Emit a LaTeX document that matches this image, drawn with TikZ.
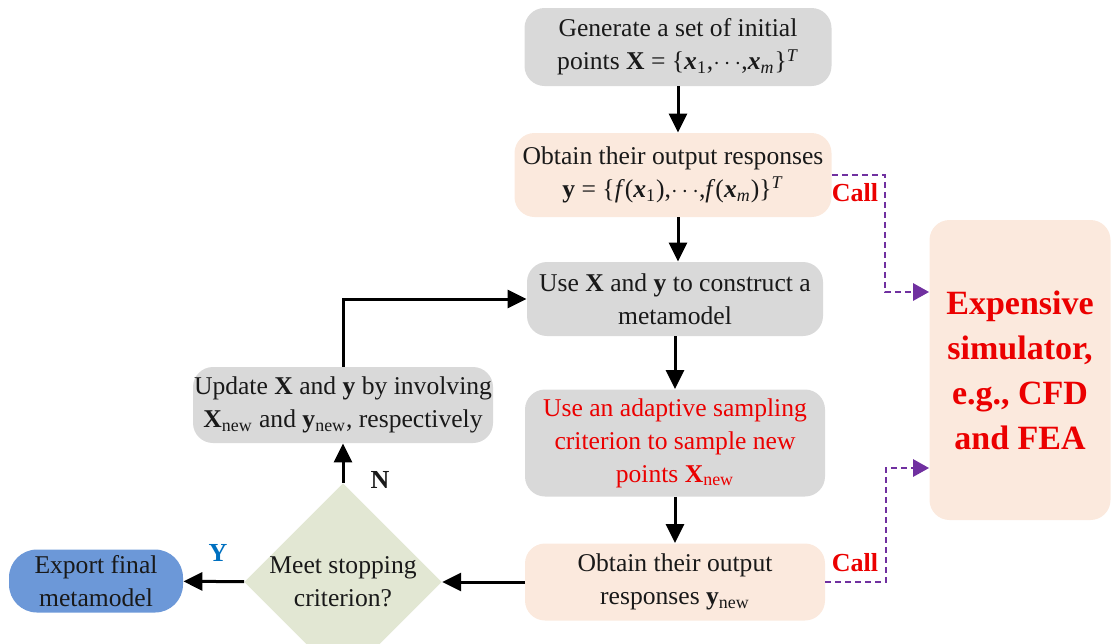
\documentclass[tikz,border=0pt]{standalone}
\usepackage{fontspec}
\setmainfont{Liberation Serif}
\usetikzlibrary{arrows.meta,shapes.geometric}
\definecolor{boxgray}{RGB}{217,217,217}
\definecolor{boxpeach}{RGB}{251,233,221}
\definecolor{boxblue}{RGB}{108,152,216}
\definecolor{boxsage}{RGB}{226,231,211}
\definecolor{callred}{RGB}{235,0,0}
\definecolor{callpurple}{RGB}{112,48,160}
\definecolor{yesblue}{RGB}{0,112,192}
\newcommand{\bx}{\textbf{\textit{x}}}
\newcommand{\nw}[1]{\textbf{#1}\textsubscript{new}}

\begin{document}
\begin{tikzpicture}[x=0.5pt, y=-0.5pt,
  every node/.style={font=\fontsize{12.8}{16.5}\selectfont, text=black!90, align=center, inner sep=0pt},
  gbox/.style={rounded corners=10pt, fill=boxgray},
  pbox/.style={rounded corners=10pt, fill=boxpeach},
  arr/.style={-{Triangle[length=9.5pt,width=9pt]}, line width=1.5pt},
  call/.style={-{Triangle[length=8pt,width=8.5pt]}, line width=1.4pt, callpurple, dash pattern=on 3pt off 2pt},
  lbl/.style={font=\fontsize{13}{15}\selectfont\bfseries}
  ]

  \useasboundingbox (0,0) rectangle (1111,643);

  % main column
  \node[gbox, minimum width=153.5pt, minimum height=39pt] (init) at (678,47)
    {Generate a set of initial\\ points \textbf{X} = \{\bx\textsubscript{1},$\cdots$,\bx\textsubscript{\textit{m}}\}\textsuperscript{\textit{T}}};
  \node[pbox, minimum width=158.5pt, minimum height=42pt] (resp) at (673,175)
    {Obtain their output responses\\ \textbf{y} = \{\textit{f}(\bx\textsubscript{1}),$\cdots$,\textit{f}(\bx\textsubscript{\textit{m}})\}\textsuperscript{\textit{T}}};
  \node[gbox, minimum width=148pt, minimum height=37pt] (build) at (675,299)
    {Use \textbf{X} and \textbf{y} to construct a\\ metamodel};
  \node[gbox, minimum width=150pt, minimum height=53.5pt, text=callred] (sample) at (675,443)
    {Use an adaptive sampling\\ criterion to sample new\\ points \nw{X}};
  \node[pbox, minimum width=150pt, minimum height=38.5pt] (respnew) at (675,582)
    {Obtain their output\\ responses \nw{y}};

  % loop and exit
  \node[diamond, fill=boxsage, minimum width=96.5pt, minimum height=62.5pt] (stop) at (343,582)
    {Meet stopping\\ criterion?};
  \node[gbox, minimum width=150pt, minimum height=38pt] (update) at (343,405)
    {Update \textbf{X} and \textbf{y} by involving\\ \nw{X} and \nw{y}, respectively};
  \node[rounded corners=14pt, fill=boxblue, minimum width=87pt, minimum height=31.5pt] (export) at (96,581)
    {Export final\\ metamodel};

  % simulator
  \node[rounded corners=10pt, fill=boxpeach, minimum width=90.5pt, minimum height=150pt,
        text=callred, font=\fontsize{17}{22.5}\selectfont\bfseries] (sim) at (1020,370)
    {Expensive\\ simulator,\\ e.g., CFD\\ and FEA};

  \draw[arr] (init) -- (init |- resp.north);
  \draw[arr] (resp.south -| init) -- (init |- build.north);
  \draw[arr] (build) -- (sample);
  \draw[arr] (sample) -- (respnew);
  \draw[arr] (respnew) -- (stop);
  \draw[arr] (stop) -- (export);
  \draw[arr] (stop) -- (update);
  \draw[arr] (update.north) |- (build.west);

  \node[lbl, text=yesblue] (yes) at (218,553) {Y};
  \node[lbl] (no) at (380,480) {N};

  % calls to the simulator
  \coordinate (c1) at (885,292);
  \coordinate (c2) at (886,468);
  \draw[call] (resp.east) -| (c1) -- (c1 -| sim.west);
  \draw[call] (respnew.east) -| (c2) -- (c2 -| sim.west);
  \node[lbl, text=callred] (call1) at (855,193) {Call};
  \node[lbl, text=callred] (call2) at (855,563) {Call};
\end{tikzpicture}
\end{document}
